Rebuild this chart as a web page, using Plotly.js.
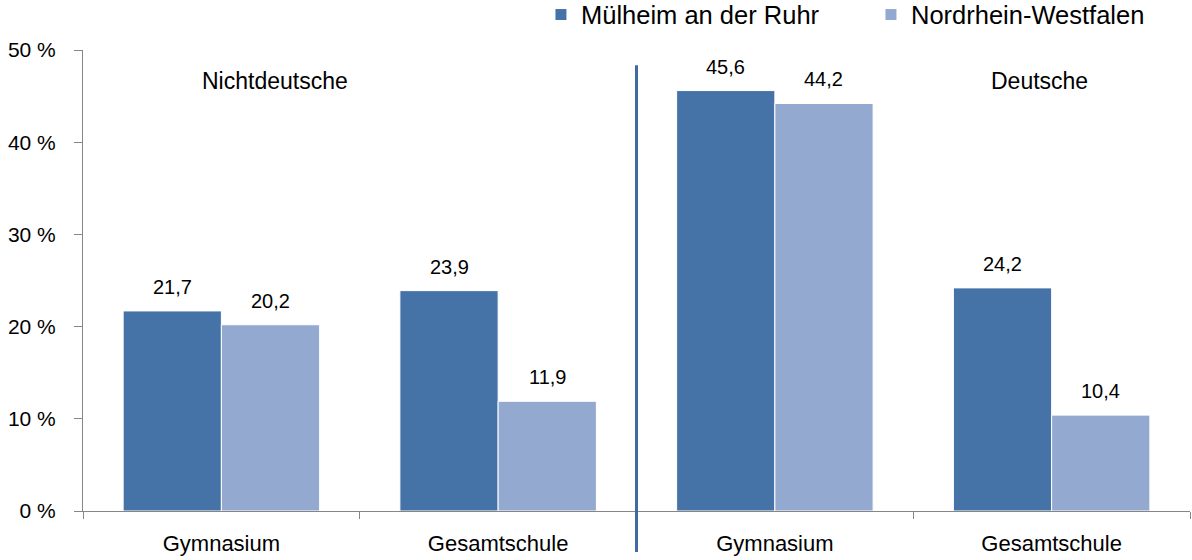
<!DOCTYPE html>
<html>
<head>
<meta charset="utf-8">
<script src="https://cdn.plot.ly/plotly-3.0.1.min.js"></script>
<style>html,body{margin:0;padding:0;background:#fff;}#chart{width:1192px;height:560px;}</style>
</head>
<body>
<div id="chart"></div>
<script>
const categories = ["ng", "nges", "dg", "dges"];
const tickLabels = ["Gymnasium", "Gesamtschule", "Gymnasium", "Gesamtschule"];
const seriesNames = ["Mülheim an der Ruhr", "Nordrhein-Westfalen"];
const muelheim = [21.7, 23.9, 45.6, 24.2];
const nrw = [20.2, 11.9, 44.2, 10.4];
const groupLabels = ["Nichtdeutsche", "Deutsche"];
const yTickVals = [0, 10, 20, 30, 40, 50];
const yTickText = ["0 %", "10 %", "20 %", "30 %", "40 %", "50 %"];

const FONT = "Liberation Sans, Arial, sans-serif";
const colors = ["#4573A7", "#94A9D0"];
const seriesVals = [muelheim, nrw];
const legendIds = ["legend", "legend2"];

const traces = seriesVals.map((vals, i) => ({
  type: "bar",
  name: seriesNames[i],
  legend: legendIds[i],
  x: categories,
  y: vals,
  marker: {color: colors[i], line: {color: "#ffffff", width: 1}},
  hoverinfo: "skip"
}));

const annotations = [];
seriesVals.forEach((vals, i) => {
  vals.forEach((v, j) => {
    annotations.push({
      x: categories[j], y: v, xref: "x", yref: "y",
      text: v.toFixed(1).replace(".", ","),
      showarrow: false, xshift: (i === 0 ? -49 : 49), yshift: 24,
      yanchor: "middle", xanchor: "center",
      font: {family: FONT, size: 20, color: "#000"}
    });
  });
});
annotations.push({x: 0.173, y: 46.6, xref: "paper", yref: "y", text: groupLabels[0], showarrow: false,
  xanchor: "center", yanchor: "middle", font: {family: FONT, size: 23, color: "#000"}});
annotations.push({x: 0.864, y: 46.6, xref: "paper", yref: "y", text: groupLabels[1], showarrow: false,
  xanchor: "center", yanchor: "middle", font: {family: FONT, size: 23, color: "#000"}});

const legendStyle = (xPaper) => ({
  orientation: "h", x: xPaper, xanchor: "left", y: 1.076, yanchor: "middle",
  font: {family: FONT, size: 25.5, color: "#000"}, itemwidth: 30,
  bgcolor: "rgba(0,0,0,0)", borderwidth: 0
});

const layout = {
  width: 1192, height: 560,
  margin: {l: 83, r: 2, t: 50, b: 49, autoexpand: false},
  paper_bgcolor: "#fff", plot_bgcolor: "#fff",
  barmode: "group", bargap: 0.29, bargroupgap: 0,
  font: {family: FONT, size: 20, color: "#000"},
  showlegend: true,
  legend: legendStyle(0.4137),
  legend2: legendStyle(0.7118),
  xaxis: {
    type: "category", tickmode: "array", tickvals: categories, ticktext: tickLabels,
    tickson: "boundaries", ticks: "outside", ticklen: 7, tickcolor: "#868686",
    showline: true, linecolor: "#868686", linewidth: 1, showgrid: false, zeroline: false,
    tickfont: {family: FONT, size: 22}, ticklabelstandoff: 13
  },
  yaxis: {
    range: [0, 50], tickmode: "array", tickvals: yTickVals, ticktext: yTickText,
    ticks: "outside", ticklen: 8, tickcolor: "#868686",
    showline: true, linecolor: "#868686", linewidth: 1, showgrid: false, zeroline: false,
    tickfont: {family: FONT, size: 21}, ticklabelstandoff: 14
  },
  shapes: [{type: "line", xref: "x", yref: "paper", x0: 1.5, x1: 1.5, y0: -0.089, y1: 0.967,
    line: {color: "#3F6BA2", width: 3}}],
  annotations: annotations
};

Plotly.newPlot("chart", traces, layout, {displayModeBar: false, staticPlot: true});
</script>
</body>
</html>
